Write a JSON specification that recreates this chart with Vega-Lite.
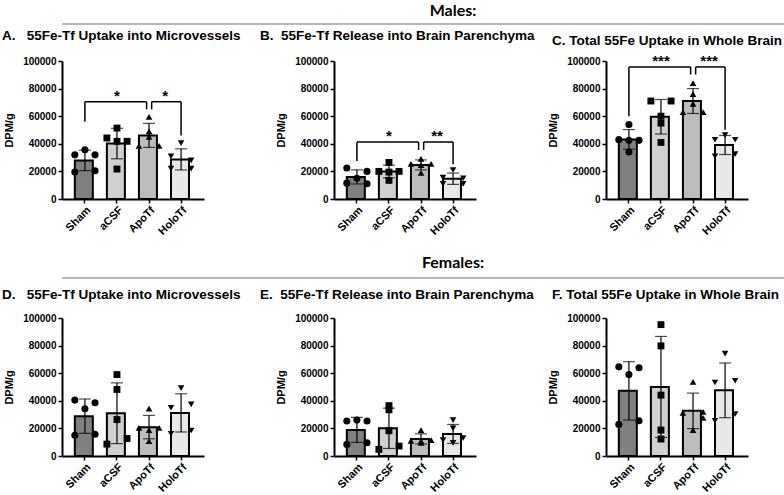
{
  "$schema": "https://vega.github.io/schema/vega-lite/v6.json",
  "padding": {"left": 2, "top": 3, "right": 0, "bottom": 0},
  "config": {
    "view": {"stroke": null},
    "font": "Liberation Sans",
    "title": {"color": "black", "font": "Liberation Sans", "fontSize": 13.5, "fontWeight": "bold", "anchor": "start", "frame": "group", "offset": 12},
    "axis": {"grid": false, "domainColor": "black", "domainWidth": 2, "tickColor": "black", "tickWidth": 1.5, "tickSize": 4, "labelColor": "black", "labelFont": "Liberation Sans", "labelFontWeight": "bold", "titleColor": "black", "titleFont": "Liberation Sans", "titleFontWeight": "bold", "labelOverlap": false},
    "axisY": {"labelFontSize": 10, "titleFontSize": 11, "titlePadding": 8, "labelPadding": 2, "tickCount": 6, "labelOverlap": false},
    "axisX": {"labelAngle": -45, "labelFontSize": 11, "labelPadding": 1}
  },
  "datasets": {
    "pts": [
      {"p":"A","g":"Sham","v":35700,"c":"C"},{"p":"A","g":"Sham","v":32000,"c":"L"},{"p":"A","g":"Sham","v":32000,"c":"R"},{"p":"A","g":"Sham","v":19500,"c":"L"},{"p":"A","g":"Sham","v":20500,"c":"R"},
      {"p":"A","g":"aCSF","v":51400,"c":"C"},{"p":"A","g":"aCSF","v":44200,"c":"L"},{"p":"A","g":"aCSF","v":41800,"c":"C"},{"p":"A","g":"aCSF","v":41800,"c":"R"},{"p":"A","g":"aCSF","v":21700,"c":"C"},
      {"p":"A","g":"ApoTf","v":59500,"c":"C"},{"p":"A","g":"ApoTf","v":49000,"c":"C"},{"p":"A","g":"ApoTf","v":45000,"c":"C"},{"p":"A","g":"ApoTf","v":38500,"c":"L"},{"p":"A","g":"ApoTf","v":38500,"c":"R"},
      {"p":"A","g":"HoloTf","v":40500,"c":"C"},{"p":"A","g":"HoloTf","v":31000,"c":"L"},{"p":"A","g":"HoloTf","v":28000,"c":"R"},{"p":"A","g":"HoloTf","v":22000,"c":"L"},{"p":"A","g":"HoloTf","v":22000,"c":"R"},
      {"p":"B","g":"Sham","v":22500,"c":"L"},{"p":"B","g":"Sham","v":20000,"c":"R"},{"p":"B","g":"Sham","v":15000,"c":"C"},{"p":"B","g":"Sham","v":11500,"c":"L"},{"p":"B","g":"Sham","v":11000,"c":"R"},
      {"p":"B","g":"aCSF","v":26500,"c":"C"},{"p":"B","g":"aCSF","v":20000,"c":"L"},{"p":"B","g":"aCSF","v":20000,"c":"R"},{"p":"B","g":"aCSF","v":19500,"c":"C"},{"p":"B","g":"aCSF","v":13500,"c":"C"},
      {"p":"B","g":"ApoTf","v":29000,"c":"C"},{"p":"B","g":"ApoTf","v":25500,"c":"L"},{"p":"B","g":"ApoTf","v":25500,"c":"R"},{"p":"B","g":"ApoTf","v":24500,"c":"C"},{"p":"B","g":"ApoTf","v":19000,"c":"C"},
      {"p":"B","g":"HoloTf","v":21000,"c":"C"},{"p":"B","g":"HoloTf","v":15500,"c":"L"},{"p":"B","g":"HoloTf","v":15000,"c":"R"},{"p":"B","g":"HoloTf","v":11000,"c":"L"},{"p":"B","g":"HoloTf","v":11000,"c":"R"},
      {"p":"C","g":"Sham","v":54000,"c":"C"},{"p":"C","g":"Sham","v":43000,"c":"L"},{"p":"C","g":"Sham","v":42500,"c":"C"},{"p":"C","g":"Sham","v":42500,"c":"R"},{"p":"C","g":"Sham","v":34000,"c":"C"},
      {"p":"C","g":"aCSF","v":71000,"c":"L"},{"p":"C","g":"aCSF","v":71000,"c":"R"},{"p":"C","g":"aCSF","v":60000,"c":"C"},{"p":"C","g":"aCSF","v":55000,"c":"C"},{"p":"C","g":"aCSF","v":41000,"c":"C"},
      {"p":"C","g":"ApoTf","v":84000,"c":"C"},{"p":"C","g":"ApoTf","v":76000,"c":"C"},{"p":"C","g":"ApoTf","v":69000,"c":"C"},{"p":"C","g":"ApoTf","v":63000,"c":"L"},{"p":"C","g":"ApoTf","v":63000,"c":"R"},
      {"p":"C","g":"HoloTf","v":46300,"c":"C"},{"p":"C","g":"HoloTf","v":42900,"c":"L"},{"p":"C","g":"HoloTf","v":42900,"c":"R"},{"p":"C","g":"HoloTf","v":31000,"c":"L"},{"p":"C","g":"HoloTf","v":32500,"c":"R"},
      {"p":"D","g":"Sham","v":40500,"c":"L"},{"p":"D","g":"Sham","v":38600,"c":"R"},{"p":"D","g":"Sham","v":34300,"c":"C"},{"p":"D","g":"Sham","v":15100,"c":"L"},{"p":"D","g":"Sham","v":15800,"c":"R"},
      {"p":"D","g":"aCSF","v":59000,"c":"C"},{"p":"D","g":"aCSF","v":48200,"c":"C"},{"p":"D","g":"aCSF","v":26400,"c":"C"},{"p":"D","g":"aCSF","v":12700,"c":"R"},{"p":"D","g":"aCSF","v":8600,"c":"L"},
      {"p":"D","g":"ApoTf","v":34300,"c":"C"},{"p":"D","g":"ApoTf","v":20400,"c":"L"},{"p":"D","g":"ApoTf","v":20400,"c":"R"},{"p":"D","g":"ApoTf","v":18700,"c":"C"},{"p":"D","g":"ApoTf","v":10800,"c":"C"},
      {"p":"D","g":"HoloTf","v":49200,"c":"C"},{"p":"D","g":"HoloTf","v":35000,"c":"L"},{"p":"D","g":"HoloTf","v":37400,"c":"R"},{"p":"D","g":"HoloTf","v":16100,"c":"L"},{"p":"D","g":"HoloTf","v":18500,"c":"R"},
      {"p":"E","g":"Sham","v":25300,"c":"L"},{"p":"E","g":"Sham","v":26000,"c":"C"},{"p":"E","g":"Sham","v":25300,"c":"R"},{"p":"E","g":"Sham","v":8400,"c":"L"},{"p":"E","g":"Sham","v":9600,"c":"R"},
      {"p":"E","g":"aCSF","v":36500,"c":"C"},{"p":"E","g":"aCSF","v":33500,"c":"C"},{"p":"E","g":"aCSF","v":18300,"c":"C"},{"p":"E","g":"aCSF","v":4800,"c":"L"},{"p":"E","g":"aCSF","v":7200,"c":"R"},
      {"p":"E","g":"ApoTf","v":18800,"c":"C"},{"p":"E","g":"ApoTf","v":11000,"c":"L"},{"p":"E","g":"ApoTf","v":11500,"c":"R"},{"p":"E","g":"ApoTf","v":9500,"c":"C"},{"p":"E","g":"ApoTf","v":11000,"c":"C"},
      {"p":"E","g":"HoloTf","v":26000,"c":"C"},{"p":"E","g":"HoloTf","v":20000,"c":"C"},{"p":"E","g":"HoloTf","v":11500,"c":"L"},{"p":"E","g":"HoloTf","v":13000,"c":"R"},{"p":"E","g":"HoloTf","v":9500,"c":"C"},
      {"p":"F","g":"Sham","v":64600,"c":"L"},{"p":"F","g":"Sham","v":59000,"c":"C"},{"p":"F","g":"Sham","v":64000,"c":"R"},{"p":"F","g":"Sham","v":22900,"c":"L"},{"p":"F","g":"Sham","v":25500,"c":"R"},
      {"p":"F","g":"aCSF","v":95200,"c":"C"},{"p":"F","g":"aCSF","v":79800,"c":"C"},{"p":"F","g":"aCSF","v":44100,"c":"C"},{"p":"F","g":"aCSF","v":18800,"c":"C"},{"p":"F","g":"aCSF","v":12300,"c":"C"},
      {"p":"F","g":"ApoTf","v":53700,"c":"C"},{"p":"F","g":"ApoTf","v":31300,"c":"L"},{"p":"F","g":"ApoTf","v":32000,"c":"R"},{"p":"F","g":"ApoTf","v":27700,"c":"R"},{"p":"F","g":"ApoTf","v":18800,"c":"C"},
      {"p":"F","g":"HoloTf","v":74200,"c":"C"},{"p":"F","g":"HoloTf","v":53300,"c":"L"},{"p":"F","g":"HoloTf","v":54500,"c":"R"},{"p":"F","g":"HoloTf","v":25500,"c":"L"},{"p":"F","g":"HoloTf","v":30400,"c":"R"}
    ],
    "br": [
      {"p":"A","side":"L","g":"Sham","a":"ApoTf","y":70500,"yo":56000,"ya":65000,"s":"*"},
      {"p":"A","side":"R","g":"HoloTf","a":"ApoTf","y":70500,"yo":46000,"ya":65000,"s":"*"},
      {"p":"B","side":"L","g":"Sham","a":"ApoTf","y":41300,"yo":27600,"ya":35600,"s":"*"},
      {"p":"B","side":"R","g":"HoloTf","a":"ApoTf","y":41300,"yo":25200,"ya":35600,"s":"**"},
      {"p":"C","side":"L","g":"Sham","a":"ApoTf","y":95700,"yo":60000,"ya":90200,"s":"***"},
      {"p":"C","side":"R","g":"HoloTf","a":"ApoTf","y":95700,"yo":50100,"ya":90200,"s":"***"}
    ]
  },
  "spacing": 18,
  "vconcat": [
    {
      "spacing": 3,
      "vconcat": [
        {
          "data": {"values": [{"h": "Males"}]},
          "width": 782, "height": 1,
          "title": {"text": "Males:", "font": "Lato", "fontSize": 16, "fontWeight": "bold", "anchor": "middle", "frame": "group", "offset": 4},
          "mark": {"type": "rule", "color": "#a0a0a0", "strokeWidth": 1.5},
          "encoding": {"y": {"datum": 0, "type": "quantitative", "scale": {"domain": [0, 1]}, "axis": null}}
        },
        {
          "bounds": "flush",
          "spacing": 130,
          "hconcat": [
            {
              "width": 142, "height": 138,
              "title": {"text": "A.\u00a0\u00a0\u00a055Fe-Tf Uptake into Microvessels", "dx": -60, "offset": 14},
              "data": {"name": "pts"},
              "layer": [
                {"transform": [{"filter": "datum.p === 'A'"}], "mark": {"type": "bar", "stroke": "black", "strokeWidth": 2},
                 "encoding": {"x": {"field": "g", "type": "nominal", "title": null, "scale": {"domain": ["Sham","aCSF","ApoTf","HoloTf"], "paddingInner": 0.37, "paddingOuter": 0.4}},
                  "y": {"aggregate": "mean", "field": "v", "type": "quantitative", "title": "DPM/g", "scale": {"domain": [0, 100000]}, "axis": {"values": [0,20000,40000,60000,80000,100000], "format": "d", "labelOverlap": false, "tickCount": 6}},
                  "fill": {"field": "g", "type": "nominal", "scale": {"domain": ["Sham","aCSF","ApoTf","HoloTf"], "range": ["#808080","#d0d0d0","#bdbdbd","#e8e8e8"]}, "legend": null}}},
                {"transform": [{"filter": "datum.p === 'A'"}], "mark": {"type": "errorbar", "extent": "stdev", "color": "black", "thickness": 1.2, "ticks": {"size": 12}},
                 "encoding": {"x": {"field": "g", "type": "nominal", "title": null}, "y": {"field": "v", "type": "quantitative", "title": "DPM/g"}}},
                {"transform": [{"filter": "datum.p === 'A'"}], "mark": {"type": "point", "filled": true, "color": "black", "opacity": 1},
                 "encoding": {"x": {"field": "g", "type": "nominal", "title": null}, "xOffset": {"field": "c", "type": "nominal", "scale": {"domain": ["L","C","R"], "paddingInner": 0, "paddingOuter": 0}},
                  "y": {"field": "v", "type": "quantitative", "title": "DPM/g"},
                  "shape": {"field": "g", "type": "nominal", "scale": {"domain": ["Sham","aCSF","ApoTf","HoloTf"], "range": ["circle","square","triangle-up","triangle-down"]}, "legend": null},
                  "size": {"field": "g", "type": "nominal", "scale": {"domain": ["Sham","aCSF","ApoTf","HoloTf"], "range": [50, 42, 60, 60]}, "legend": null}}},
                {"data": {"name": "br"}, "transform": [{"filter": "datum.p === 'A' && datum.side === 'L'"}], "mark": {"type": "rule", "color": "black", "strokeWidth": 1.5},
                 "encoding": {"x": {"field": "a", "type": "nominal", "bandPosition": 0.38, "title": null}, "x2": {"field": "g"}, "y": {"field": "y", "type": "quantitative", "title": "DPM/g"}}},
                {"data": {"name": "br"}, "transform": [{"filter": "datum.p === 'A' && datum.side === 'R'"}], "mark": {"type": "rule", "color": "black", "strokeWidth": 1.5},
                 "encoding": {"x": {"field": "a", "type": "nominal", "bandPosition": 0.63, "title": null}, "x2": {"field": "g"}, "y": {"field": "y", "type": "quantitative", "title": "DPM/g"}}},
                {"data": {"name": "br"}, "transform": [{"filter": "datum.p === 'A'"}], "mark": {"type": "rule", "color": "black", "strokeWidth": 1.5},
                 "encoding": {"x": {"field": "g", "type": "nominal", "title": null}, "y": {"field": "yo", "type": "quantitative", "title": "DPM/g"}, "y2": {"field": "y"}}},
                {"data": {"name": "br"}, "transform": [{"filter": "datum.p === 'A' && datum.side === 'L'"}], "mark": {"type": "rule", "color": "black", "strokeWidth": 1.5},
                 "encoding": {"x": {"field": "a", "type": "nominal", "bandPosition": 0.38, "title": null}, "y": {"field": "ya", "type": "quantitative", "title": "DPM/g"}, "y2": {"field": "y"}}},
                {"data": {"name": "br"}, "transform": [{"filter": "datum.p === 'A' && datum.side === 'R'"}], "mark": {"type": "rule", "color": "black", "strokeWidth": 1.5},
                 "encoding": {"x": {"field": "a", "type": "nominal", "bandPosition": 0.63, "title": null}, "y": {"field": "ya", "type": "quantitative", "title": "DPM/g"}, "y2": {"field": "y"}}},
                {"data": {"name": "br"}, "transform": [{"filter": "datum.p === 'A' && datum.side === 'L'"}], "mark": {"type": "text", "fontWeight": "bold", "fontSize": 15, "baseline": "alphabetic", "dy": -1, "color": "black"},
                 "encoding": {"x": {"field": "a", "type": "nominal", "bandPosition": -1.087, "title": null}, "y": {"field": "y", "type": "quantitative", "title": "DPM/g"}, "text": {"field": "s"}}},
                {"data": {"name": "br"}, "transform": [{"filter": "datum.p === 'A' && datum.side === 'R'"}], "mark": {"type": "text", "fontWeight": "bold", "fontSize": 15, "baseline": "alphabetic", "dy": -1, "color": "black"},
                 "encoding": {"x": {"field": "a", "type": "nominal", "bandPosition": 1.294, "title": null}, "y": {"field": "y", "type": "quantitative", "title": "DPM/g"}, "text": {"field": "s"}}}
              ]
            },
            {
              "width": 142, "height": 138,
              "title": {"text": "B.\u00a0\u00a055Fe-Tf Release into Brain Parenchyma", "dx": -74, "offset": 14},
              "data": {"name": "pts"},
              "layer": [
                {"transform": [{"filter": "datum.p === 'B'"}], "mark": {"type": "bar", "stroke": "black", "strokeWidth": 2},
                 "encoding": {"x": {"field": "g", "type": "nominal", "title": null, "scale": {"domain": ["Sham","aCSF","ApoTf","HoloTf"], "paddingInner": 0.37, "paddingOuter": 0.4}},
                  "y": {"aggregate": "mean", "field": "v", "type": "quantitative", "title": "DPM/g", "scale": {"domain": [0, 100000]}, "axis": {"values": [0,20000,40000,60000,80000,100000], "format": "d", "labelOverlap": false, "tickCount": 6}},
                  "fill": {"field": "g", "type": "nominal", "scale": {"domain": ["Sham","aCSF","ApoTf","HoloTf"], "range": ["#808080","#d0d0d0","#bdbdbd","#e8e8e8"]}, "legend": null}}},
                {"transform": [{"filter": "datum.p === 'B'"}], "mark": {"type": "errorbar", "extent": "stdev", "color": "black", "thickness": 1.2, "ticks": {"size": 12}},
                 "encoding": {"x": {"field": "g", "type": "nominal", "title": null}, "y": {"field": "v", "type": "quantitative", "title": "DPM/g"}}},
                {"transform": [{"filter": "datum.p === 'B'"}], "mark": {"type": "point", "filled": true, "color": "black", "opacity": 1},
                 "encoding": {"x": {"field": "g", "type": "nominal", "title": null}, "xOffset": {"field": "c", "type": "nominal", "scale": {"domain": ["L","C","R"], "paddingInner": 0, "paddingOuter": 0}},
                  "y": {"field": "v", "type": "quantitative", "title": "DPM/g"},
                  "shape": {"field": "g", "type": "nominal", "scale": {"domain": ["Sham","aCSF","ApoTf","HoloTf"], "range": ["circle","square","triangle-up","triangle-down"]}, "legend": null},
                  "size": {"field": "g", "type": "nominal", "scale": {"domain": ["Sham","aCSF","ApoTf","HoloTf"], "range": [50, 42, 60, 60]}, "legend": null}}},
                {"data": {"name": "br"}, "transform": [{"filter": "datum.p === 'B' && datum.side === 'L'"}], "mark": {"type": "rule", "color": "black", "strokeWidth": 1.5},
                 "encoding": {"x": {"field": "a", "type": "nominal", "bandPosition": 0.38, "title": null}, "x2": {"field": "g"}, "y": {"field": "y", "type": "quantitative", "title": "DPM/g"}}},
                {"data": {"name": "br"}, "transform": [{"filter": "datum.p === 'B' && datum.side === 'R'"}], "mark": {"type": "rule", "color": "black", "strokeWidth": 1.5},
                 "encoding": {"x": {"field": "a", "type": "nominal", "bandPosition": 0.63, "title": null}, "x2": {"field": "g"}, "y": {"field": "y", "type": "quantitative", "title": "DPM/g"}}},
                {"data": {"name": "br"}, "transform": [{"filter": "datum.p === 'B'"}], "mark": {"type": "rule", "color": "black", "strokeWidth": 1.5},
                 "encoding": {"x": {"field": "g", "type": "nominal", "title": null}, "y": {"field": "yo", "type": "quantitative", "title": "DPM/g"}, "y2": {"field": "y"}}},
                {"data": {"name": "br"}, "transform": [{"filter": "datum.p === 'B' && datum.side === 'L'"}], "mark": {"type": "rule", "color": "black", "strokeWidth": 1.5},
                 "encoding": {"x": {"field": "a", "type": "nominal", "bandPosition": 0.38, "title": null}, "y": {"field": "ya", "type": "quantitative", "title": "DPM/g"}, "y2": {"field": "y"}}},
                {"data": {"name": "br"}, "transform": [{"filter": "datum.p === 'B' && datum.side === 'R'"}], "mark": {"type": "rule", "color": "black", "strokeWidth": 1.5},
                 "encoding": {"x": {"field": "a", "type": "nominal", "bandPosition": 0.63, "title": null}, "y": {"field": "ya", "type": "quantitative", "title": "DPM/g"}, "y2": {"field": "y"}}},
                {"data": {"name": "br"}, "transform": [{"filter": "datum.p === 'B' && datum.side === 'L'"}], "mark": {"type": "text", "fontWeight": "bold", "fontSize": 15, "baseline": "alphabetic", "dy": -1, "color": "black"},
                 "encoding": {"x": {"field": "a", "type": "nominal", "bandPosition": -1.087, "title": null}, "y": {"field": "y", "type": "quantitative", "title": "DPM/g"}, "text": {"field": "s"}}},
                {"data": {"name": "br"}, "transform": [{"filter": "datum.p === 'B' && datum.side === 'R'"}], "mark": {"type": "text", "fontWeight": "bold", "fontSize": 15, "baseline": "alphabetic", "dy": -1, "color": "black"},
                 "encoding": {"x": {"field": "a", "type": "nominal", "bandPosition": 1.294, "title": null}, "y": {"field": "y", "type": "quantitative", "title": "DPM/g"}, "text": {"field": "s"}}}
              ]
            },
            {
              "width": 142, "height": 138,
              "title": {"text": "C.\u00a0Total 55Fe Uptake in Whole Brain", "dx": -54, "offset": 6},
              "data": {"name": "pts"},
              "layer": [
                {"transform": [{"filter": "datum.p === 'C'"}], "mark": {"type": "bar", "stroke": "black", "strokeWidth": 2},
                 "encoding": {"x": {"field": "g", "type": "nominal", "title": null, "scale": {"domain": ["Sham","aCSF","ApoTf","HoloTf"], "paddingInner": 0.37, "paddingOuter": 0.4}},
                  "y": {"aggregate": "mean", "field": "v", "type": "quantitative", "title": "DPM/g", "scale": {"domain": [0, 100000]}, "axis": {"values": [0,20000,40000,60000,80000,100000], "format": "d", "labelOverlap": false, "tickCount": 6}},
                  "fill": {"field": "g", "type": "nominal", "scale": {"domain": ["Sham","aCSF","ApoTf","HoloTf"], "range": ["#808080","#d0d0d0","#bdbdbd","#e8e8e8"]}, "legend": null}}},
                {"transform": [{"filter": "datum.p === 'C'"}], "mark": {"type": "errorbar", "extent": "stdev", "color": "black", "thickness": 1.2, "ticks": {"size": 12}},
                 "encoding": {"x": {"field": "g", "type": "nominal", "title": null}, "y": {"field": "v", "type": "quantitative", "title": "DPM/g"}}},
                {"transform": [{"filter": "datum.p === 'C'"}], "mark": {"type": "point", "filled": true, "color": "black", "opacity": 1},
                 "encoding": {"x": {"field": "g", "type": "nominal", "title": null}, "xOffset": {"field": "c", "type": "nominal", "scale": {"domain": ["L","C","R"], "paddingInner": 0, "paddingOuter": 0}},
                  "y": {"field": "v", "type": "quantitative", "title": "DPM/g"},
                  "shape": {"field": "g", "type": "nominal", "scale": {"domain": ["Sham","aCSF","ApoTf","HoloTf"], "range": ["circle","square","triangle-up","triangle-down"]}, "legend": null},
                  "size": {"field": "g", "type": "nominal", "scale": {"domain": ["Sham","aCSF","ApoTf","HoloTf"], "range": [50, 42, 60, 60]}, "legend": null}}},
                {"data": {"name": "br"}, "transform": [{"filter": "datum.p === 'C' && datum.side === 'L'"}], "mark": {"type": "rule", "color": "black", "strokeWidth": 1.5},
                 "encoding": {"x": {"field": "a", "type": "nominal", "bandPosition": 0.38, "title": null}, "x2": {"field": "g"}, "y": {"field": "y", "type": "quantitative", "title": "DPM/g"}}},
                {"data": {"name": "br"}, "transform": [{"filter": "datum.p === 'C' && datum.side === 'R'"}], "mark": {"type": "rule", "color": "black", "strokeWidth": 1.5},
                 "encoding": {"x": {"field": "a", "type": "nominal", "bandPosition": 0.63, "title": null}, "x2": {"field": "g"}, "y": {"field": "y", "type": "quantitative", "title": "DPM/g"}}},
                {"data": {"name": "br"}, "transform": [{"filter": "datum.p === 'C'"}], "mark": {"type": "rule", "color": "black", "strokeWidth": 1.5},
                 "encoding": {"x": {"field": "g", "type": "nominal", "title": null}, "y": {"field": "yo", "type": "quantitative", "title": "DPM/g"}, "y2": {"field": "y"}}},
                {"data": {"name": "br"}, "transform": [{"filter": "datum.p === 'C' && datum.side === 'L'"}], "mark": {"type": "rule", "color": "black", "strokeWidth": 1.5},
                 "encoding": {"x": {"field": "a", "type": "nominal", "bandPosition": 0.38, "title": null}, "y": {"field": "ya", "type": "quantitative", "title": "DPM/g"}, "y2": {"field": "y"}}},
                {"data": {"name": "br"}, "transform": [{"filter": "datum.p === 'C' && datum.side === 'R'"}], "mark": {"type": "rule", "color": "black", "strokeWidth": 1.5},
                 "encoding": {"x": {"field": "a", "type": "nominal", "bandPosition": 0.63, "title": null}, "y": {"field": "ya", "type": "quantitative", "title": "DPM/g"}, "y2": {"field": "y"}}},
                {"data": {"name": "br"}, "transform": [{"filter": "datum.p === 'C' && datum.side === 'L'"}], "mark": {"type": "text", "fontWeight": "bold", "fontSize": 15, "baseline": "alphabetic", "dy": -1, "color": "black"},
                 "encoding": {"x": {"field": "a", "type": "nominal", "bandPosition": -1.087, "title": null}, "y": {"field": "y", "type": "quantitative", "title": "DPM/g"}, "text": {"field": "s"}}},
                {"data": {"name": "br"}, "transform": [{"filter": "datum.p === 'C' && datum.side === 'R'"}], "mark": {"type": "text", "fontWeight": "bold", "fontSize": 15, "baseline": "alphabetic", "dy": -1, "color": "black"},
                 "encoding": {"x": {"field": "a", "type": "nominal", "bandPosition": 1.294, "title": null}, "y": {"field": "y", "type": "quantitative", "title": "DPM/g"}, "text": {"field": "s"}}}
              ]
            }
          ]
        }
      ]
    },
    {
      "spacing": 8,
      "vconcat": [
        {
          "data": {"values": [{"h": "Females"}]},
          "width": 782, "height": 1,
          "title": {"text": "Females:", "font": "Lato", "fontSize": 16, "fontWeight": "bold", "anchor": "middle", "frame": "group", "offset": 6},
          "mark": {"type": "rule", "color": "#a0a0a0", "strokeWidth": 1.5},
          "encoding": {"y": {"datum": 0, "type": "quantitative", "scale": {"domain": [0, 1]}, "axis": null}}
        },
        {
          "bounds": "flush",
          "spacing": 130,
          "hconcat": [
            {
              "width": 142, "height": 138,
              "title": {"text": "D.\u00a0\u00a0\u00a055Fe-Tf Uptake into Microvessels", "dx": -60},
              "data": {"name": "pts"},
              "layer": [
                {"transform": [{"filter": "datum.p === 'D'"}], "mark": {"type": "bar", "stroke": "black", "strokeWidth": 2},
                 "encoding": {"x": {"field": "g", "type": "nominal", "title": null, "scale": {"domain": ["Sham","aCSF","ApoTf","HoloTf"], "paddingInner": 0.37, "paddingOuter": 0.4}},
                  "y": {"aggregate": "mean", "field": "v", "type": "quantitative", "title": "DPM/g", "scale": {"domain": [0, 100000]}, "axis": {"values": [0,20000,40000,60000,80000,100000], "format": "d", "labelOverlap": false, "tickCount": 6}},
                  "fill": {"field": "g", "type": "nominal", "scale": {"domain": ["Sham","aCSF","ApoTf","HoloTf"], "range": ["#808080","#d0d0d0","#bdbdbd","#e8e8e8"]}, "legend": null}}},
                {"transform": [{"filter": "datum.p === 'D'"}], "mark": {"type": "errorbar", "extent": "stdev", "color": "black", "thickness": 1.2, "ticks": {"size": 12}},
                 "encoding": {"x": {"field": "g", "type": "nominal", "title": null}, "y": {"field": "v", "type": "quantitative", "title": "DPM/g"}}},
                {"transform": [{"filter": "datum.p === 'D'"}], "mark": {"type": "point", "filled": true, "color": "black", "opacity": 1},
                 "encoding": {"x": {"field": "g", "type": "nominal", "title": null}, "xOffset": {"field": "c", "type": "nominal", "scale": {"domain": ["L","C","R"], "paddingInner": 0, "paddingOuter": 0}},
                  "y": {"field": "v", "type": "quantitative", "title": "DPM/g"},
                  "shape": {"field": "g", "type": "nominal", "scale": {"domain": ["Sham","aCSF","ApoTf","HoloTf"], "range": ["circle","square","triangle-up","triangle-down"]}, "legend": null},
                  "size": {"field": "g", "type": "nominal", "scale": {"domain": ["Sham","aCSF","ApoTf","HoloTf"], "range": [50, 42, 60, 60]}, "legend": null}}}
              ]
            },
            {
              "width": 142, "height": 138,
              "title": {"text": "E.\u00a0\u00a055Fe-Tf Release into Brain Parenchyma", "dx": -74},
              "data": {"name": "pts"},
              "layer": [
                {"transform": [{"filter": "datum.p === 'E'"}], "mark": {"type": "bar", "stroke": "black", "strokeWidth": 2},
                 "encoding": {"x": {"field": "g", "type": "nominal", "title": null, "scale": {"domain": ["Sham","aCSF","ApoTf","HoloTf"], "paddingInner": 0.37, "paddingOuter": 0.4}},
                  "y": {"aggregate": "mean", "field": "v", "type": "quantitative", "title": "DPM/g", "scale": {"domain": [0, 100000]}, "axis": {"values": [0,20000,40000,60000,80000,100000], "format": "d", "labelOverlap": false, "tickCount": 6}},
                  "fill": {"field": "g", "type": "nominal", "scale": {"domain": ["Sham","aCSF","ApoTf","HoloTf"], "range": ["#808080","#d0d0d0","#bdbdbd","#e8e8e8"]}, "legend": null}}},
                {"transform": [{"filter": "datum.p === 'E'"}], "mark": {"type": "errorbar", "extent": "stdev", "color": "black", "thickness": 1.2, "ticks": {"size": 12}},
                 "encoding": {"x": {"field": "g", "type": "nominal", "title": null}, "y": {"field": "v", "type": "quantitative", "title": "DPM/g"}}},
                {"transform": [{"filter": "datum.p === 'E'"}], "mark": {"type": "point", "filled": true, "color": "black", "opacity": 1},
                 "encoding": {"x": {"field": "g", "type": "nominal", "title": null}, "xOffset": {"field": "c", "type": "nominal", "scale": {"domain": ["L","C","R"], "paddingInner": 0, "paddingOuter": 0}},
                  "y": {"field": "v", "type": "quantitative", "title": "DPM/g"},
                  "shape": {"field": "g", "type": "nominal", "scale": {"domain": ["Sham","aCSF","ApoTf","HoloTf"], "range": ["circle","square","triangle-up","triangle-down"]}, "legend": null},
                  "size": {"field": "g", "type": "nominal", "scale": {"domain": ["Sham","aCSF","ApoTf","HoloTf"], "range": [50, 42, 60, 60]}, "legend": null}}}
              ]
            },
            {
              "width": 142, "height": 138,
              "title": {"text": "F.\u00a0Total 55Fe Uptake in Whole Brain", "dx": -54},
              "data": {"name": "pts"},
              "layer": [
                {"transform": [{"filter": "datum.p === 'F'"}], "mark": {"type": "bar", "stroke": "black", "strokeWidth": 2},
                 "encoding": {"x": {"field": "g", "type": "nominal", "title": null, "scale": {"domain": ["Sham","aCSF","ApoTf","HoloTf"], "paddingInner": 0.37, "paddingOuter": 0.4}},
                  "y": {"aggregate": "mean", "field": "v", "type": "quantitative", "title": "DPM/g", "scale": {"domain": [0, 100000]}, "axis": {"values": [0,20000,40000,60000,80000,100000], "format": "d", "labelOverlap": false, "tickCount": 6}},
                  "fill": {"field": "g", "type": "nominal", "scale": {"domain": ["Sham","aCSF","ApoTf","HoloTf"], "range": ["#808080","#d0d0d0","#bdbdbd","#e8e8e8"]}, "legend": null}}},
                {"transform": [{"filter": "datum.p === 'F'"}], "mark": {"type": "errorbar", "extent": "stdev", "color": "black", "thickness": 1.2, "ticks": {"size": 12}},
                 "encoding": {"x": {"field": "g", "type": "nominal", "title": null}, "y": {"field": "v", "type": "quantitative", "title": "DPM/g"}}},
                {"transform": [{"filter": "datum.p === 'F'"}], "mark": {"type": "point", "filled": true, "color": "black", "opacity": 1},
                 "encoding": {"x": {"field": "g", "type": "nominal", "title": null}, "xOffset": {"field": "c", "type": "nominal", "scale": {"domain": ["L","C","R"], "paddingInner": 0, "paddingOuter": 0}},
                  "y": {"field": "v", "type": "quantitative", "title": "DPM/g"},
                  "shape": {"field": "g", "type": "nominal", "scale": {"domain": ["Sham","aCSF","ApoTf","HoloTf"], "range": ["circle","square","triangle-up","triangle-down"]}, "legend": null},
                  "size": {"field": "g", "type": "nominal", "scale": {"domain": ["Sham","aCSF","ApoTf","HoloTf"], "range": [50, 42, 60, 60]}, "legend": null}}}
              ]
            }
          ]
        }
      ]
    }
  ]
}
